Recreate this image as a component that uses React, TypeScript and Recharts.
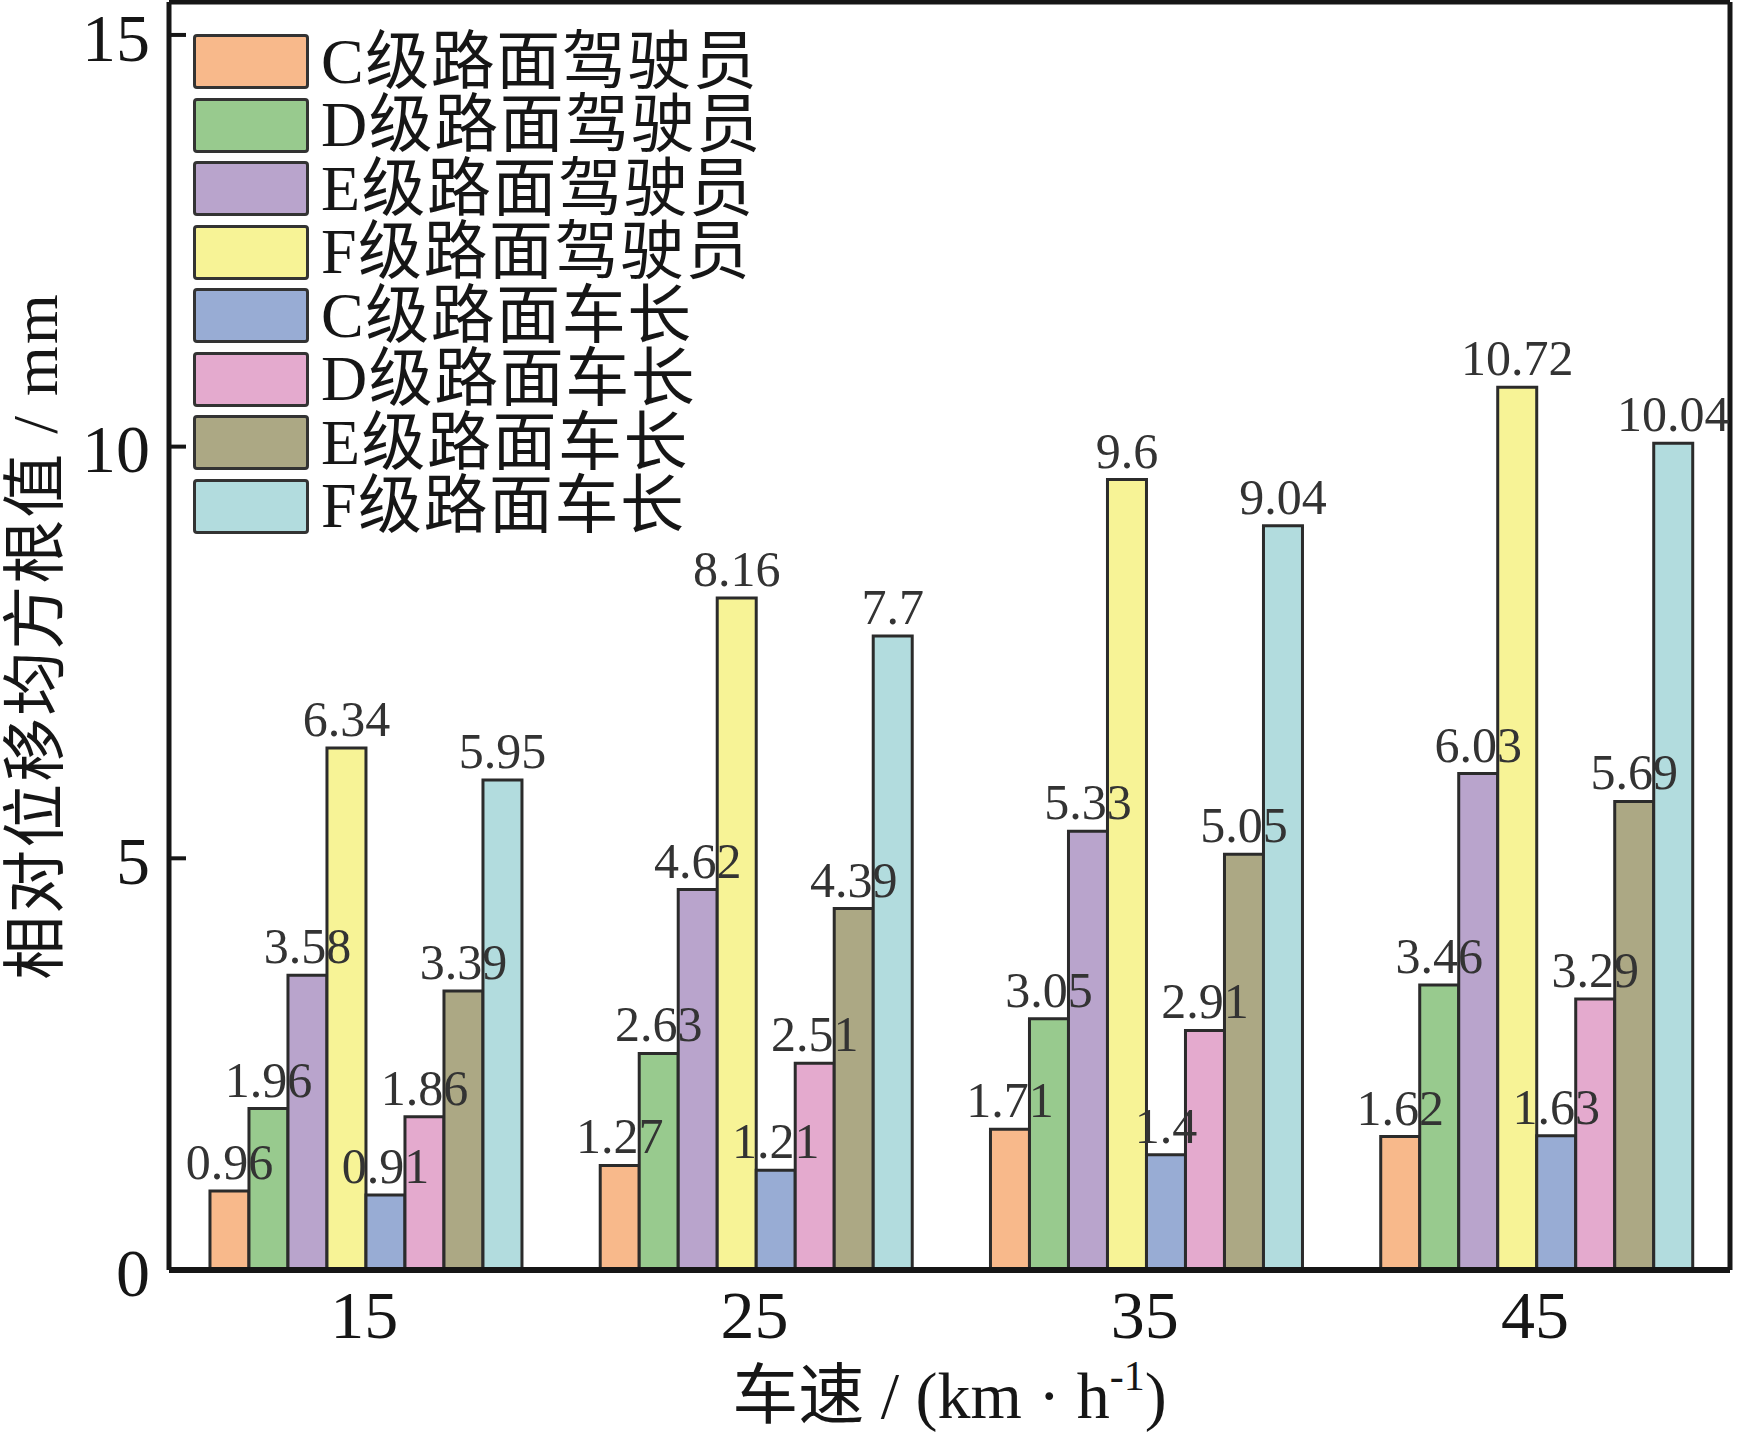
import React from 'react';
import { BarChart, Bar, XAxis, YAxis, LabelList, Legend } from 'recharts';

const speeds = ['15', '25', '35', '45'];
const cDriver = [0.96, 1.27, 1.71, 1.62];
const dDriver = [1.96, 2.63, 3.05, 3.46];
const eDriver = [3.58, 4.62, 5.33, 6.03];
const fDriver = [6.34, 8.16, 9.6, 10.72];
const cChief = [0.91, 1.21, 1.4, 1.63];
const dChief = [1.86, 2.51, 2.91, 3.29];
const eChief = [3.39, 4.39, 5.05, 5.69];
const fChief = [5.95, 7.7, 9.04, 10.04];

const seriesKeys = ['cD', 'dD', 'eD', 'fD', 'cC', 'dC', 'eC', 'fC'];
const seriesValues = [cDriver, dDriver, eDriver, fDriver, cChief, dChief, eChief, fChief];
const seriesNames = [
  'C级路面驾驶员',
  'D级路面驾驶员',
  'E级路面驾驶员',
  'F级路面驾驶员',
  'C级路面车长',
  'D级路面车长',
  'E级路面车长',
  'F级路面车长',
];
const seriesColors = ['#F8B98B', '#98CA8E', '#B9A4CC', '#F7F396', '#98ACD4', '#E4AACE', '#ACA884', '#B2DCDE'];
const yTicks = [0, 5, 10, 15];
const yDomain = [0, 15.4];

const data = speeds.map((s, i) => {
  const row: any = { speed: s };
  seriesKeys.forEach((k, j) => {
    row[k] = seriesValues[j][i];
  });
  return row;
});

const FONT = "'Liberation Serif', 'Noto Sans CJK SC', serif";
const INK = '#161616';

const XTick = (props: any) => {
  const { x, y, payload } = props;
  return (
    <text x={x} y={y + 68} textAnchor="middle" fontSize={68} fontFamily={FONT} fill={INK}>
      {payload.value}
    </text>
  );
};

const YTick = (props: any) => {
  const { x, y, payload } = props;
  return (
    <text x={x} y={y} dy="0.38em" textAnchor="end" fontSize={68} fontFamily={FONT} fill={INK}>
      {payload.value}
    </text>
  );
};

const XLabel = (props: any) => {
  const vb = props.viewBox || { x: 0, y: 0, width: 0, height: 0 };
  const cx = vb.x + vb.width / 2;
  return (
    <text x={cx} y={vb.y + 148} textAnchor="middle" fontSize={66} fontFamily={FONT} fill={INK}>
      车速 / (km · h
      <tspan dy={-28} fontSize={42}>
        -1
      </tspan>
      <tspan dy={28}>)</tspan>
    </text>
  );
};

const YLabel = (props: any) => {
  const vb = props.viewBox || { x: 0, y: 0, width: 0, height: 0 };
  const cy = vb.y + vb.height / 2;
  return (
    <text
      transform={`translate(57, ${cy}) rotate(-90)`}
      textAnchor="middle"
      fontSize={64}
      fontFamily={FONT}
      fill={INK}
      letterSpacing={2}
    >
      相对位移均方根值 / mm
    </text>
  );
};

const LegendBox = () => (
  <div style={{ display: 'flex', flexDirection: 'column' }}>
    {seriesNames.map((n, i) => (
      <div key={n} style={{ display: 'flex', alignItems: 'center', height: 63.5 }}>
        <div
          style={{
            width: 116,
            height: 55,
            flex: 'none',
            boxSizing: 'border-box',
            border: '3px solid #333',
            borderRadius: 4,
            background: seriesColors[i],
          }}
        />
        <span
          style={{
            marginLeft: 12,
            fontSize: 64,
            fontFamily: FONT,
            color: INK,
            lineHeight: '58px',
            letterSpacing: 1.5,
            whiteSpace: 'nowrap',
          }}
        >
          {n}
        </span>
      </div>
    ))}
  </div>
);

export default function App() {
  return (
    <div style={{ position: 'absolute', left: 0, top: 0, width: 1737, height: 1432, background: '#fff' }}>
      <BarChart
        width={1737}
        height={1432}
        data={data}
        margin={{ top: 1, right: 6, bottom: 0, left: 0 }}
        barCategoryGap="10.5%"
        barGap={0}
      >
        <XAxis
          dataKey="speed"
          height={162}
          tickLine={false}
          tickSize={0}
          tickMargin={0}
          axisLine={{ stroke: INK, strokeWidth: 6 }}
          tick={<XTick />}
          label={<XLabel />}
        />
        <XAxis xAxisId="lab" dataKey="speed" hide />
        <XAxis
          xAxisId="top"
          orientation="top"
          dataKey="speed"
          height={1}
          tick={false}
          tickLine={false}
          axisLine={{ stroke: INK, strokeWidth: 5 }}
        />
        <YAxis
          type="number"
          domain={yDomain}
          ticks={yTicks}
          interval={0}
          width={169}
          tickSize={-17}
          tickMargin={36}
          tickLine={{ stroke: INK, strokeWidth: 4 }}
          axisLine={{ stroke: INK, strokeWidth: 5 }}
          tick={<YTick />}
          label={<YLabel />}
        />
        <YAxis
          yAxisId="right"
          orientation="right"
          type="number"
          domain={yDomain}
          width={1}
          tick={false}
          tickLine={false}
          axisLine={{ stroke: INK, strokeWidth: 5 }}
        />
        <Legend
          layout="vertical"
          align="center"
          verticalAlign="middle"
          content={<LegendBox />}
          wrapperStyle={{ left: 193, top: 30, width: 720, height: 520 }}
        />
        {seriesKeys.map((k, i) => (
          <Bar
            key={k}
            dataKey={k}
            name={seriesNames[i]}
            fill={seriesColors[i]}
            stroke="#2b2b2b"
            strokeWidth={3}
            isAnimationActive={false}
          />
        ))}
        {seriesKeys.map((k, i) => (
          <Bar
            key={'lab-' + k}
            dataKey={k}
            xAxisId="lab"
            fill="none"
            stroke="none"
            legendType="none"
            isAnimationActive={false}
          >
            <LabelList dataKey={k} position="top" offset={12} fill="#333" fontSize={50} fontFamily={FONT} />
          </Bar>
        ))}
      </BarChart>
    </div>
  );
}
